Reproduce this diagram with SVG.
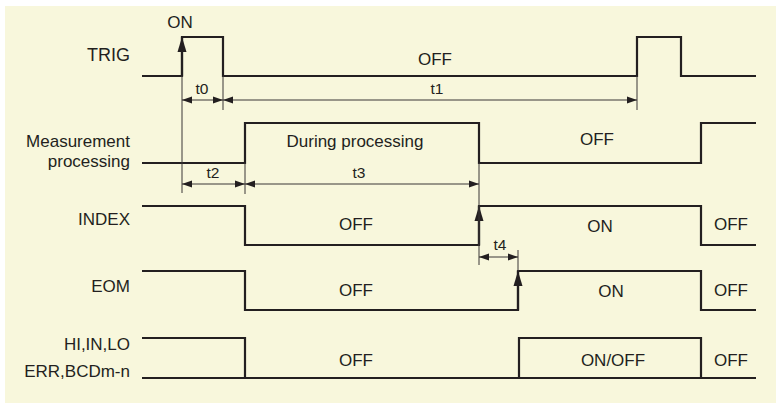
<svg xmlns="http://www.w3.org/2000/svg" width="776" height="403" viewBox="0 0 776 403">
<style>
.sig{fill:none;stroke:#231f20;stroke-width:2.2;stroke-linejoin:miter;stroke-linecap:butt}
.thin{fill:none;stroke:#3a3636;stroke-width:1}
.dim{fill:none;stroke:#3a3636;stroke-width:1;marker-start:url(#da);marker-end:url(#da)}
.edge{fill:none;stroke:#231f20;stroke-width:2.2;marker-end:url(#sa)}
text{font-family:"Liberation Sans",Arial,sans-serif;fill:#231f20;font-size:17px}
.lbl{text-anchor:end}
.st{text-anchor:middle}
.tl{text-anchor:middle;font-size:15.5px}
</style>
<defs>
<marker id="sa" markerUnits="userSpaceOnUse" orient="auto" refX="0" refY="0" markerWidth="16" markerHeight="10" viewBox="-15 -5 16 10" overflow="visible">
<polygon points="-15,-4.5 0,0 -15,4.5" fill="#231f20"/>
</marker>
<marker id="da" markerUnits="userSpaceOnUse" orient="auto-start-reverse" refX="0" refY="0" markerWidth="11" markerHeight="8" viewBox="-10 -4 11 8" overflow="visible">
<polygon points="-10,-3.5 0,0 -10,3.5" fill="#231f20"/>
</marker>
</defs>
<rect x="5" y="6" width="771" height="397" fill="#f8f7dc"/>

<g id="trig">
<text class="lbl" x="130" y="61" style="font-size:18px">TRIG</text>
<path class="sig" d="M142,76 H182 V37 H223 V76 H637 V37 H681 V76 H756"/>
<line class="edge" x1="182" y1="76" x2="182" y2="37"/>
<text class="st" x="180" y="28">ON</text>
<text class="st" x="435" y="65">OFF</text>
</g>

<g id="measurement">
<text class="lbl" x="130" y="147">Measurement</text>
<text class="lbl" x="130" y="167">processing</text>
<path class="sig" d="M142,163 H245 V123 H479 V163 H701 V123 H756"/>
<text class="st" x="355" y="147">During processing</text>
<text class="st" x="597" y="145">OFF</text>
</g>

<g id="index">
<text class="lbl" x="130" y="225">INDEX</text>
<path class="sig" d="M142,206 H245 V245 H479 V206 H701 V245 H756"/>
<line class="edge" x1="479" y1="245" x2="479" y2="206"/>
<text class="st" x="356" y="230">OFF</text>
<text class="st" x="600" y="232">ON</text>
<text class="st" x="731" y="230">OFF</text>
</g>

<g id="eom">
<text class="lbl" x="130" y="292">EOM</text>
<path class="sig" d="M142,271 H245 V310 H518 V271 H701 V310 H756"/>
<line class="edge" x1="518" y1="310" x2="518" y2="271"/>
<text class="st" x="356" y="296">OFF</text>
<text class="st" x="611" y="297">ON</text>
<text class="st" x="731" y="296">OFF</text>
</g>

<g id="hi-in-lo">
<text class="lbl" x="130" y="350">HI,IN,LO</text>
<text class="lbl" x="130" y="377">ERR,BCDm-n</text>
<path class="sig" d="M142,338 H245 V378"/>
<path class="sig" d="M142,378 H756"/>
<path class="sig" d="M519,378 V338 H701 V378"/>
<text class="st" x="356" y="366">OFF</text>
<text class="st" x="613" y="366">ON/OFF</text>
<text class="st" x="731" y="366">OFF</text>
</g>

<g id="connectors">
<line class="thin" x1="182" y1="76" x2="182" y2="193"/>
<line class="thin" x1="223" y1="76" x2="223" y2="110"/>
<line class="thin" x1="637" y1="76" x2="637" y2="110"/>
<line class="thin" x1="245" y1="163" x2="245" y2="194"/>
<line class="thin" x1="479" y1="163" x2="479" y2="265"/>
<line class="thin" x1="518" y1="250" x2="518" y2="271"/>
<line class="dim" x1="182" y1="100" x2="223" y2="100"/>
<line class="dim" x1="223" y1="100" x2="637" y2="100"/>
<line class="dim" x1="182" y1="184" x2="245" y2="184"/>
<line class="dim" x1="245" y1="184" x2="479" y2="184"/>
<line class="dim" x1="479" y1="257" x2="518" y2="257"/>
<text class="tl" x="202" y="94">t0</text>
<text class="tl" x="437" y="94">t1</text>
<text class="tl" x="213" y="178">t2</text>
<text class="tl" x="359" y="178">t3</text>
<text class="tl" x="500" y="250">t4</text>
</g>
</svg>
